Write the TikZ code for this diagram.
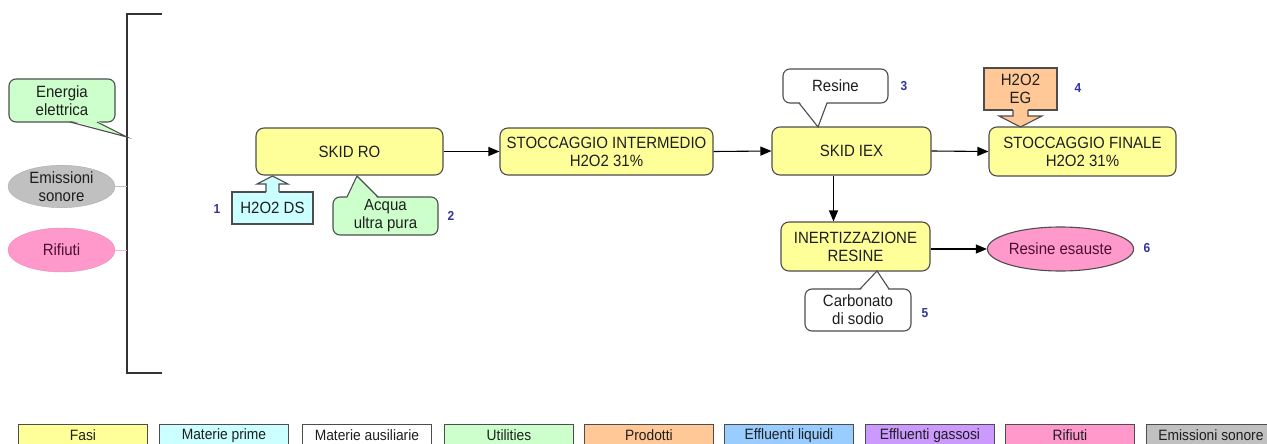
\documentclass[tikz,border=0pt]{standalone}
\usepackage{fontspec}
\setmainfont{Liberation Sans}[FakeStretch=0.92]
\usetikzlibrary{arrows.meta,shapes.geometric}
\definecolor{fasi}{HTML}{FFFF99}
\definecolor{mprime}{HTML}{CCFFFF}
\definecolor{util}{HTML}{CCFFCC}
\definecolor{prod}{HTML}{FFC896}
\definecolor{efliq}{HTML}{99CCFF}
\definecolor{efgas}{HTML}{CC99FF}
\definecolor{rif}{HTML}{FF99CC}
\definecolor{emis}{HTML}{C0C0C0}
\definecolor{bordc}{HTML}{4D4D4D}
\definecolor{numc}{HTML}{333399}
\definecolor{rtext}{HTML}{4A1030}
\definecolor{txt}{HTML}{1E1E1E}
\begin{document}
\begin{tikzpicture}[x=1pt,y=-1pt,
  font=\fontsize{16.3}{18}\selectfont, text=txt,
  proc/.style={draw=bordc, fill=fasi, rounded corners=8pt, line width=1.1pt, align=center, inner sep=0pt},
  callbox/.style={draw=bordc, rounded corners=7pt, line width=1.1pt, align=center, inner sep=0pt},
  blk/.style={draw=bordc, line width=1.1pt, align=center, inner sep=0pt},
  bord/.style={draw=bordc, line width=1.1pt, line join=miter},
  num/.style={text=numc, font=\fontsize{13}{14}\selectfont\bfseries, inner sep=0pt},
  arr/.style={-{Triangle[length=11pt,width=9pt]}, line width=1.1pt, black},
  leg/.style={draw=bordc, line width=0.9pt, minimum width=129pt, minimum height=22pt, inner sep=0pt, anchor=north west, font=\fontsize{15}{16}\selectfont},
  ell/.style={ellipse, inner sep=0pt, align=center}
]
\useasboundingbox (0,0) rectangle (1267,444);
\fill[white] (0,0) rectangle (1267,444);
\clip (0,0) rectangle (1267,444);

% bracket
\draw[draw=black!80, line width=1.4pt] (162,14) -- (127,14) -- (127,373) -- (162,373);
\coordinate (br) at (127,0);
\coordinate (etip) at (127,137);

% left side items
\node[callbox, fill=util, minimum width=106pt, minimum height=43pt] (energia) at (62,100.5) {Energia\\elettrica};
\fill[util] (70,120.4) -- (etip) -- (97,120.4) -- cycle;
\draw[bord] (70,122) -- (etip) -- (97,122);

\node[ell, fill=emis, draw=emis!90!black, minimum width=107pt, minimum height=41pt] (emisn) at (61.5,186.5) {Emissioni\\sonore};
\draw[emis, line width=1pt] (emisn.east) -- (emisn.east -| br);

\node[ell, fill=rif, draw=rif!90!black, text=rtext, minimum width=107pt, minimum height=44pt] (rifiuti) at (61.5,250) {Rifiuti};
\draw[rif!80, line width=1pt] (rifiuti.east) -- (rifiuti.east -| br);

% process boxes
\node[proc, minimum width=187pt, minimum height=47pt] (skidro) at (349.5,151.5) {SKID RO};
\node[proc, minimum width=213pt, minimum height=47pt] (stint) at (606.5,151.5) {STOCCAGGIO INTERMEDIO\\H2O2 31\%};
\node[proc, minimum width=159pt, minimum height=48pt] (skidiex) at (851.5,151) {SKID IEX};
\node[proc, minimum width=187pt, minimum height=49pt] (stfin) at (1082.5,151.5) {STOCCAGGIO FINALE\\H2O2 31\%};
\node[proc, minimum width=149pt, minimum height=49pt] (inert) at (855.5,246.5) {INERTIZZAZIONE\\RESINE};
\node[ell, fill=rif, draw=bordc, line width=1.1pt, text=rtext, minimum width=145pt, minimum height=44pt] (resesa) at (1060.5,249) {Resine esauste};

% arrows
\draw[arr] (skidro.east) -- (stint.west);
\draw[arr] (stint.east) -- (skidiex.west);
\draw[arr] (skidiex.east) -- (stfin.west);
\draw[arr] ([xshift=-18pt]skidiex.south) -- ([xshift=-18pt]skidiex.south |- inert.north);
\draw[arr] (inert.east |- resesa.west) -- (resesa.west);

% H2O2 DS block arrow
\node[blk, fill=mprime, minimum width=81pt, minimum height=32pt] (h2o2ds) at (272.5,208) {H2O2 DS};
\fill[mprime] (266,193.6) -- (266,184) -- (257,184) -- (272.5,176) -- (288,184) -- (279,184) -- (279,193.6) -- cycle;
\draw[bord] (266,192) -- (266,184) -- (257,184) -- (272.5,176) -- (288,184) -- (279,184) -- (279,192);

% Acqua ultra pura callout
\node[callbox, fill=util, minimum width=105pt, minimum height=38pt] (acqua) at (385.5,216) {Acqua\\ultra pura};
\fill[util] (347,198.6) -- (357,176) -- (378,198.6) -- cycle;
\draw[bord] (347,197) -- (357,176) -- (378,197);

% Resine callout
\node[callbox, fill=white, minimum width=105pt, minimum height=34pt] (resine) at (835.5,86) {Resine};
\fill[white] (799,101.4) -- (818,127) -- (827,101.4) -- cycle;
\draw[bord] (799,103) -- (818,127) -- (827,103);

% H2O2 EG block arrow
\node[blk, fill=prod, minimum width=73pt, minimum height=42pt] (h2o2eg) at (1020.5,89) {H2O2\\EG};
\fill[prod] (1013,108.4) -- (1013,116) -- (999,116) -- (1020.5,127) -- (1042,116) -- (1028,116) -- (1028,108.4) -- cycle;
\draw[bord] (1013,110) -- (1013,116) -- (999,116) -- (1020.5,127) -- (1042,116) -- (1028,116) -- (1028,110);

% Carbonato callout
\node[callbox, fill=white, minimum width=106pt, minimum height=42pt] (carbo) at (858,310) {Carbonato\\di sodio};
\fill[white] (860,290.6) -- (877,271) -- (889,290.6) -- cycle;
\draw[bord] (860,289) -- (877,271) -- (889,289);

% numbers
\node[num] (n1) at (217,209) {1};
\node[num] (n2) at (451,216) {2};
\node[num] (n3) at (904,86) {3};
\node[num] (n4) at (1078,88) {4};
\node[num] (n5) at (925,313) {5};
\node[num] (n6) at (1147,248) {6};

% legend
\node[leg, fill=fasi] (l1) at (18,424) {Fasi};
\node[leg, fill=mprime] (l2) at (159,424) {Materie prime};
\node[leg, fill=white] (l3) at (302,424) {Materie ausiliarie};
\node[leg, fill=util] (l4) at (444,424) {Utilities};
\node[leg, fill=prod] (l5) at (584,424) {Prodotti};
\node[leg, fill=efliq] (l6) at (724,424) {Effluenti liquidi};
\node[leg, fill=efgas] (l7) at (865,424) {Effluenti gassosi};
\node[leg, fill=rif] (l8) at (1005,424) {Rifiuti};
\node[leg, fill=emis] (l9) at (1146,424) {Emissioni sonore};
\end{tikzpicture}
\end{document}
